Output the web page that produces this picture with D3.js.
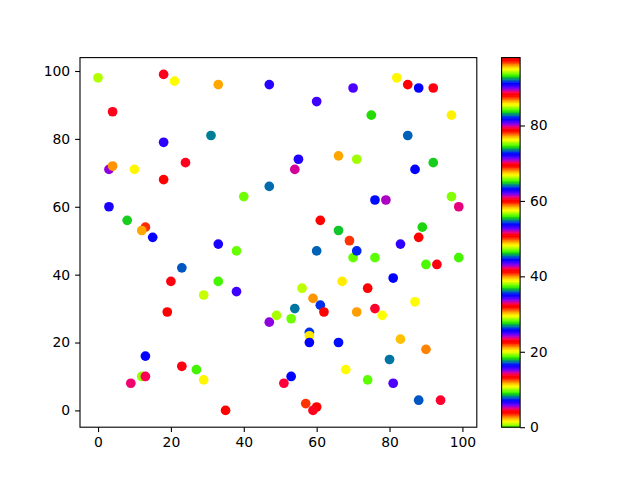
<!DOCTYPE html>
<html><head><meta charset="utf-8">
<script src="https://cdn.jsdelivr.net/npm/d3@7"></script>
<style>body{margin:0;background:#fff}svg{display:block}text{font-family:"DejaVu Sans",sans-serif}</style>
</head><body><svg id="c" width="640" height="480"></svg>
<script>
const xs = [0,18,21,33,47,82,85,88,92,70, 60,4,75,97,31,85,18,55,3,4, 10,24,54,66,71,87,92,18,47,40, 3,8,13,12,15,33,38,23,20,33, 38,29,19,76,79,97,99,61,66,69, 60,70,71,76,89,88,83,90,93,99, 81,67,74,56,59,61,54,87,76,78, 62,71,49,47,53,58,58,58,66,83, 90,80,68,74,81,53,51,88,94,57, 60,59,13,23,27,29,12,13,9,35];
const ys = [98,99,97,96,96,98,96,95,95,95, 91,88,87,87,81,81,79,74,71,72, 71,73,71,75,74,71,73,68,66,63, 60,56,54,53,51,49,47,42,38,38, 35,34,29,62,62,63,60,56,53,50, 47,45,47,45,54,51,49,43,43,45, 39,38,36,36,33,31,30,32,30,28, 29,29,28,26,27,23,22,20,20,21, 18,15,12,9,8,10,8,3,3,2, 1,0,16,13,12,9,10,10,8,0];
const cs = [94.3,88.6,76.3,68.0,53.4,48.5,41.7,25.8,23.0,6.5, 90.7,88.6,74.3,67.3,54.9,45.4,34.8,25.3,15.0,12.2, 95.0,88.6,70.7,67.9,56.7,44.5,36.8,32.4,17.3,9.8, 91.0,83.8,78.4,68.0,53.7,44.3,37.7,26.5,23.0,9.5, 90.4,85.2,79.2,63.5,52.4,47.4,33.3,32.1,18.2,12.9, 92.0,84.5,72.9,65.7,55.6,51.1,34.7,28.2,23.0,9.5, 91.4,86.0,79.0,66.3,58.6,44.8,36.1,29.8,13.8,10.8, 97.5,86.7,75.7,62.0,56.3,44.9,39.2,26.0,16.6,11.7, 96.1,82.9,76.2,65.5,53.0,44.6,32.7,26.7,13.9,12.7, 98.0,88.6,72.4,69.9,56.2,48.5,38.2,23.5,14.4,13.6];
const colorDomain = [0, 98];
const axisTicks = [0,20,40,60,80,100];
const cbarTicks = [0,20,40,60,80];

// matplotlib 'prism_r' colormap, 256-entry lookup table
function prism(x){
  const cl=v=>Math.max(0,Math.min(1,v));
  const r=cl(0.75*Math.sin((x*20.9+0.25)*Math.PI)+0.67);
  const g=cl(0.75*Math.sin((x*20.9-0.25)*Math.PI)+0.33);
  const b=cl(-1.1*Math.sin(x*20.9*Math.PI));
  return d3.rgb(r*255,g*255,b*255).toString();
}
const N=256;
const lut=d3.range(N).map(i=>prism(1-i/(N-1)));
const norm=d3.scaleLinear().domain(colorDomain).range([0,1]);
const cmap=v=>{let i=Math.floor(norm(v)*N); i=Math.max(0,Math.min(N-1,i)); return lut[i];};

const svg=d3.select("#c");
const L=80,R=476.8,T=57.6,B=427.2;
const pad=(e)=>{const m=(e[1]-e[0])*0.05;return [e[0]-m,e[1]+m];};
const x=d3.scaleLinear().domain(pad(d3.extent(xs))).range([L,R]);
const y=d3.scaleLinear().domain(pad(d3.extent(ys))).range([B,T]);

const pts=xs.map((v,i)=>({x:v,y:ys[i],c:cs[i]}));
svg.append("g").selectAll("circle").data(pts).join("circle")
  .attr("cx",d=>x(d.x)).attr("cy",d=>y(d.y)).attr("r",4.85)
  .attr("fill",d=>cmap(d.c));

const fs="13.9px";
function styleAxis(g){
  g.selectAll(".domain").remove();
  g.selectAll(".tick line").attr("stroke","#000").attr("stroke-width",1.1);
  g.selectAll(".tick text").attr("font-size",fs).attr("fill","#000").attr("font-family","DejaVu Sans");
}
svg.append("g").attr("transform",`translate(0,${B})`)
  .call(d3.axisBottom(x).tickValues(axisTicks).tickSize(4.9).tickPadding(4.9)).call(styleAxis);
svg.append("g").attr("transform",`translate(${L},0)`)
  .call(d3.axisLeft(y).tickValues(axisTicks).tickSize(4.9).tickPadding(4.9)).call(styleAxis);
svg.append("rect").attr("x",L).attr("y",T).attr("width",R-L).attr("height",B-T)
  .attr("fill","none").attr("stroke","#000").attr("stroke-width",1.1);

// colorbar
const CL=501.6,CR=520.1;
const cy=d3.scaleLinear().domain(colorDomain).range([B,T]);
const bounds=d3.range(N+1).map(i=>colorDomain[0]+(colorDomain[1]-colorDomain[0])*i/N);
svg.append("g").selectAll("rect").data(d3.range(N)).join("rect")
  .attr("x",CL).attr("width",CR-CL)
  .attr("y",i=>cy(bounds[i+1])).attr("height",i=>cy(bounds[i])-cy(bounds[i+1])+0.6)
  .attr("fill",i=>lut[i]);
svg.append("g").attr("transform",`translate(${CR},0)`)
  .call(d3.axisRight(cy).tickValues(cbarTicks).tickSize(4.9).tickPadding(4.9)).call(styleAxis);
svg.append("rect").attr("x",CL).attr("y",T).attr("width",CR-CL).attr("height",B-T)
  .attr("fill","none").attr("stroke","#000").attr("stroke-width",1.1);
</script></body></html>
